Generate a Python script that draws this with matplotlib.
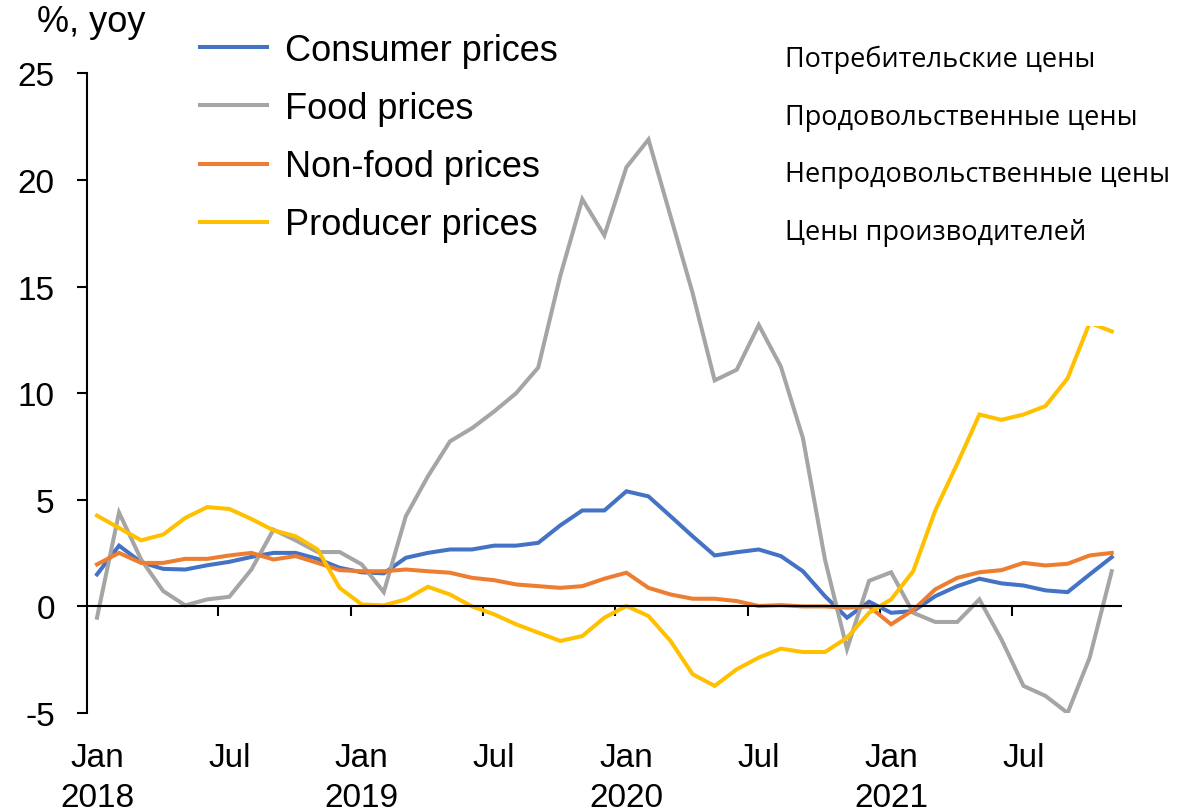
import numpy as np
import matplotlib
matplotlib.use("Agg")
import matplotlib.pyplot as plt
from matplotlib.patches import Rectangle

plt.rcParams["axes.unicode_minus"] = False

# monthly data, Jan 2018 .. Nov 2021
consumer = [1.5, 2.85, 2.07, 1.76, 1.73, 1.93, 2.09, 2.32, 2.51, 2.51, 2.23, 1.81,
            1.6, 1.55, 2.28, 2.51, 2.67, 2.67, 2.85, 2.85, 2.98, 3.8, 4.5, 4.5,
            5.4, 5.16, 4.23, 3.29, 2.39, 2.54, 2.67, 2.36, 1.65, 0.48, -0.53, 0.22,
            -0.3, -0.22, 0.48, 0.95, 1.3, 1.08, 0.98, 0.75, 0.67, 1.5, 2.31]
food = [-0.53, 4.4, 2.2, 0.72, 0.05, 0.33, 0.45, 1.73, 3.6, 3.1, 2.55, 2.55,
        1.97, 0.67, 4.23, 6.1, 7.74, 8.36, 9.14, 10.0, 11.2, 15.5, 19.1, 17.4,
        20.6, 21.9, 18.3, 14.7, 10.6, 11.1, 13.2, 11.25, 7.9, 2.2, -2.0, 1.2,
        1.6, -0.3, -0.73, -0.73, 0.33, -1.55, -3.73, -4.2, -5.0, -2.4, 1.65]
nonfood = [1.97, 2.51, 2.04, 2.04, 2.23, 2.23, 2.39, 2.51, 2.2, 2.36, 2.04, 1.7,
           1.65, 1.65, 1.73, 1.65, 1.58, 1.34, 1.23, 1.03, 0.95, 0.87, 0.95, 1.3,
           1.58, 0.87, 0.56, 0.36, 0.36, 0.25, 0.02, 0.06, 0.0, 0.0, -0.06, 0.0,
           -0.84, -0.17, 0.8, 1.34, 1.6, 1.7, 2.04, 1.92, 2.0, 2.39, 2.51]
producer = [4.26, 3.68, 3.1, 3.37, 4.15, 4.66, 4.57, 4.1, 3.57, 3.29, 2.67, 0.87,
            0.09, 0.05, 0.33, 0.92, 0.56, 0.0, -0.37, -0.84, -1.23, -1.62, -1.39, -0.53,
            0.02, -0.45, -1.62, -3.18, -3.73, -2.95, -2.4, -1.98, -2.14, -2.14, -1.47, -0.3,
            0.33, 1.65, 4.5, 6.7, 9.0, 8.75, 9.0, 9.4, 10.7, 13.3, 12.9]

names_en = ["Consumer prices", "Food prices", "Non-food prices", "Producer prices"]
names_ru = ["Потребительские цены", "Продовольственные цены",
            "Непродовольственные цены", "Цены производителей"]
colors = ["#4472C4", "#A5A5A5", "#ED7D31", "#FFC000"]
tick_labels = ["Jan\n2018", "Jul", "Jan\n2019", "Jul", "Jan\n2020", "Jul", "Jan\n2021", "Jul"]

W, H = 1179, 812
fig = plt.figure(figsize=(W / 100, H / 100), dpi=100)
fig.patch.set_facecolor("white")
ax = fig.add_axes([87 / W, 1 - 714 / H, (1121 - 87) / W, (714 - 74.4) / H])

x = np.arange(len(consumer))
for ser, c, lab in zip([consumer, food, nonfood, producer], colors, names_en):
    ax.plot(x, ser, color=c, lw=2.9, label=lab, solid_joinstyle="miter")

ax.set_xlim(-0.453, 46.42)
ax.set_ylim(-5, 25)

for s in ["top", "right"]:
    ax.spines[s].set_visible(False)
ax.spines["bottom"].set_position(("data", 0))
ax.spines["left"].set_linewidth(1.5)
ax.spines["bottom"].set_linewidth(1.5)

# x: tick marks between categories, labels under the plot
ax.set_xticks([])
ax.set_xticks(np.arange(5.5, 46, 6), minor=True)
ax.tick_params(axis="x", which="minor", length=7.2, width=1.5, direction="out")
sec = ax.secondary_xaxis("bottom")
sec.set_xticks(np.arange(0, 47, 6), tick_labels)
sec.spines["bottom"].set_visible(False)
sec.tick_params(length=0, pad=21)
for t in sec.get_xticklabels():
    t.set_fontfamily("Liberation Sans")
    t.set_fontsize(24)
    t.set_linespacing(1.36)

ax.set_yticks(np.arange(-5, 26, 5))
ax.tick_params(axis="y", length=7.2, width=1.5, direction="out", pad=16, labelsize=24)
for t in ax.get_yticklabels():
    t.set_fontfamily("Liberation Sans")

leg = ax.legend(loc="upper left", bbox_to_anchor=(200 / W, 1 - 34 / H),
                bbox_transform=fig.transFigure, frameon=False,
                prop={"family": "Liberation Sans", "size": 26},
                borderpad=0, borderaxespad=0,
                handlelength=1.86, handletextpad=0.5, labelspacing=0.64)
for h in leg.get_lines():
    h.set_linewidth(2.9)

fig.text(37 / W, 1 - 22 / H, "%, yoy", fontsize=26, family="Liberation Sans", va="center")

# white text box with the Russian labels (it hides the top of the yellow line)
fig.patches.append(Rectangle((775 / W, 1 - 327 / H), 1 - 775 / W, 327 / H,
                             transform=fig.transFigure, facecolor="white",
                             edgecolor="none", zorder=5))
for k, t in enumerate(names_ru):
    fig.text(785 / W, 1 - (60 + k * 57.7) / H, t, fontsize=19.5, family="Open Sans",
             va="center", zorder=6)

fig.savefig("out.png", dpi=100)
